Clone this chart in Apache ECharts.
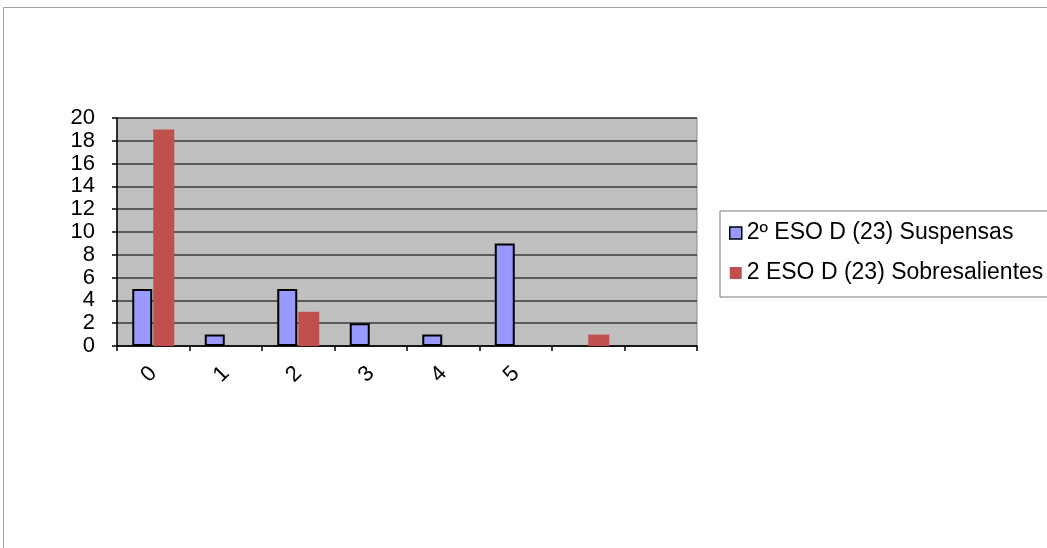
<!DOCTYPE html>
<html>
<head>
<meta charset="utf-8">
<title>2º ESO D (23)</title>
<script src="https://cdn.jsdelivr.net/npm/echarts@6/dist/echarts.min.js"></script>
<style>
  html, body { margin: 0; padding: 0; background: #ffffff; }
  #chart { width: 1047px; height: 548px; }
</style>
</head>
<body>
<div id="chart"></div>
<script>
// Number of subjects per student group
const categories = ['0', '1', '2', '3', '4', '5', '', ''];
const suspensas = [5, 1, 5, 2, 1, 9, null, null];
const sobresalientes = [19, null, 3, null, null, null, 1, null];
const seriesNames = ['2º ESO D (23) Suspensas', '2 ESO D (23) Sobresalientes'];
const yTicks = { min: 0, max: 20, interval: 2 };

const FONT = '"Liberation Sans", Arial, sans-serif';

const chart = echarts.init(document.getElementById('chart'), null, { renderer: 'canvas' });

chart.setOption({
  animation: false,
  backgroundColor: '#ffffff',
  textStyle: { fontFamily: FONT, color: '#000' },
  graphic: [
    { type: 'line', shape: { x1: 3.5, y1: 7.5, x2: 1047, y2: 7.5 }, style: { stroke: '#a0a0a0', lineWidth: 1 } },
    { type: 'line', shape: { x1: 3.5, y1: 7.5, x2: 3.5, y2: 548 }, style: { stroke: '#a0a0a0', lineWidth: 1 } }
  ],
  grid: {
    left: 117, right: 350, top: 118, bottom: 202,
    show: true,
    backgroundColor: '#c0c0c0',
    borderColor: '#8a8a8a',
    borderWidth: 1
  },
  legend: {
    orient: 'vertical',
    left: 720, top: 211,
    padding: [10, 12, 12, 9],
    itemGap: 16,
    itemWidth: 12, itemHeight: 12,
    borderColor: '#7a7a7a', borderWidth: 1,
    backgroundColor: '#ffffff',
    icon: 'rect',
    textStyle: { fontFamily: FONT, fontSize: 23, color: '#000', lineHeight: 24 },
    data: [
      { name: seriesNames[0], itemStyle: { color: '#9999ff', borderColor: '#000', borderWidth: 1.5 } },
      { name: seriesNames[1], itemStyle: { color: '#c0504d', borderWidth: 0 } }
    ]
  },
  xAxis: {
    type: 'category',
    data: categories,
    boundaryGap: true,
    axisLine: { show: true, lineStyle: { color: '#000', width: 1.5 } },
    axisTick: { show: true, length: 5, inside: false, alignWithLabel: false, lineStyle: { color: '#000', width: 1.5 } },
    axisLabel: { rotate: 45, margin: 24, fontSize: 22, color: '#000', fontFamily: FONT, interval: 0 },
    splitLine: { show: false }
  },
  yAxis: {
    type: 'value',
    min: yTicks.min, max: yTicks.max, interval: yTicks.interval,
    axisLine: { show: true, lineStyle: { color: '#000', width: 1.5 } },
    axisTick: { show: true, length: 5, inside: false, lineStyle: { color: '#000', width: 1.5 } },
    axisLabel: {
      fontSize: 22, lineHeight: 14, margin: 22, color: '#000', fontFamily: FONT,
      showMaxLabel: true, showMinLabel: true, hideOverlap: false
    },
    splitLine: { show: true, lineStyle: { color: '#3a3a3a', width: 1.5 } }
  },
  series: [
    {
      name: seriesNames[0],
      type: 'bar',
      data: suspensas,
      barWidth: 20,
      barGap: '5%',
      itemStyle: { color: '#9999ff', borderColor: '#000', borderWidth: 2 }
    },
    {
      name: seriesNames[1],
      type: 'bar',
      data: sobresalientes,
      barWidth: 21,
      itemStyle: { color: '#c0504d', borderWidth: 0 }
    }
  ]
});
</script>
</body>
</html>
